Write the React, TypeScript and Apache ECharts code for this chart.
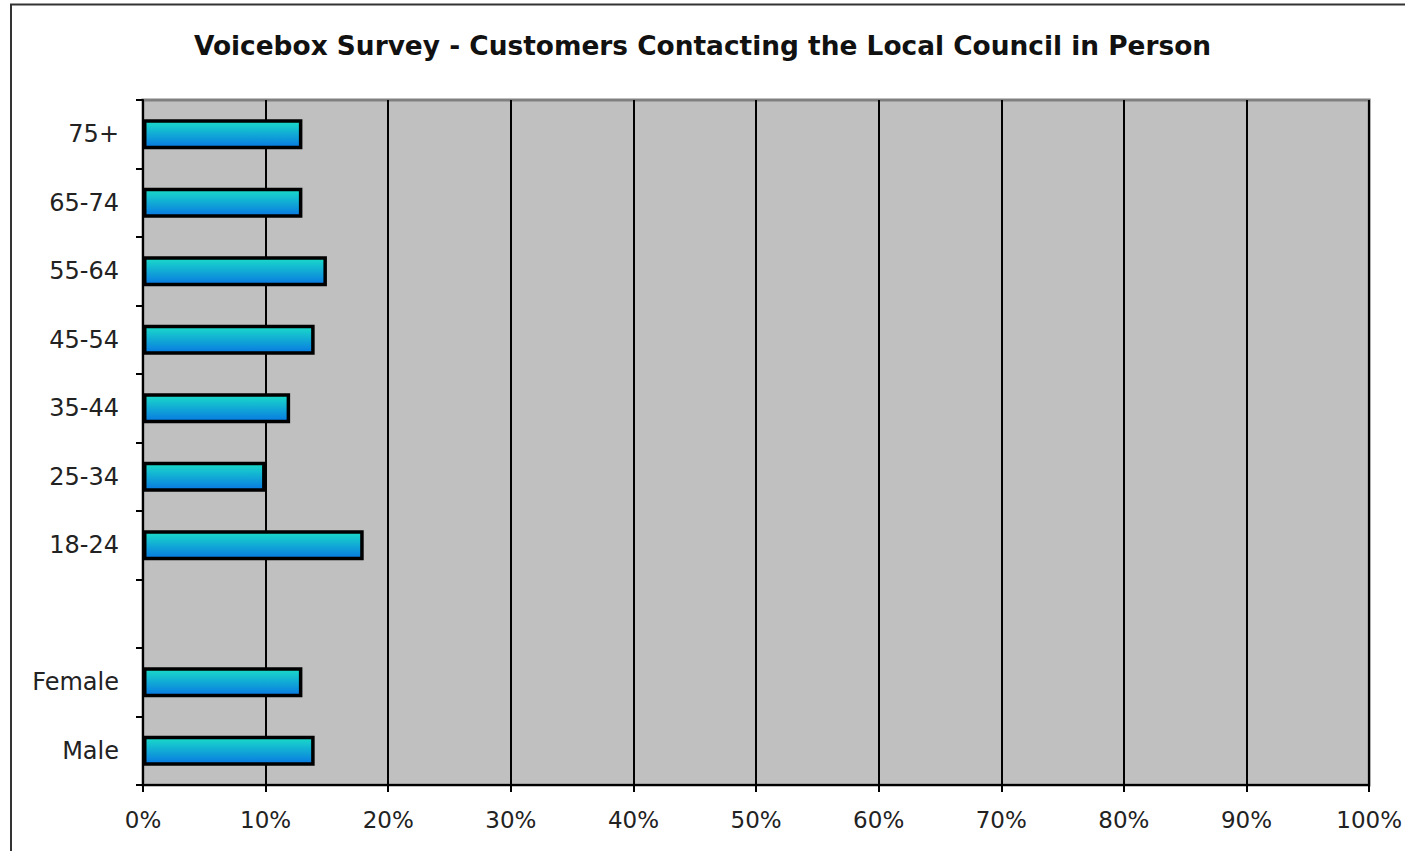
import React, { useEffect, useRef } from "react";
import * as echarts from "echarts";

const categories = ["Male", "Female", "", "18-24", "25-34", "35-44", "45-54", "55-64", "65-74", "75+"];
const values: (number | null)[] = [14, 13, null, 18, 10, 12, 14, 15, 13, 13];
const xTicks = [0, 10, 20, 30, 40, 50, 60, 70, 80, 90, 100];
const titleText = "Voicebox Survey - Customers Contacting the Local Council in Person";

export default function App() {
  const ref = useRef<HTMLDivElement>(null);
  useEffect(() => {
    if (!ref.current) return;
    const chart = echarts.init(ref.current, undefined, { renderer: "svg" });
    chart.setOption({
      animation: false,
      backgroundColor: "#ffffff",
      title: {
        text: titleText,
        left: "center",
        top: 27,
        textStyle: { fontFamily: "DejaVu Sans", fontSize: 26.4, fontWeight: "bold", color: "#111" },
      },
      graphic: [
        {
          type: "rect",
          shape: { x: 11, y: 4.5, width: 1500, height: 1000 },
          style: { fill: "none", stroke: "#333", lineWidth: 2 },
          silent: true,
        },
      ],
      grid: {
        left: 143,
        right: 33,
        top: 100,
        bottom: 66,
        show: true,
        backgroundColor: "#c0c0c0",
        borderColor: "#808080",
        borderWidth: 3,
      },
      xAxis: {
        type: "value",
        min: xTicks[0],
        max: xTicks[xTicks.length - 1],
        interval: 10,
        axisLine: { show: true, lineStyle: { color: "#000", width: 2 } },
        axisTick: { show: true, length: 7, lineStyle: { color: "#000", width: 2 } },
        splitLine: { show: true, lineStyle: { color: "#000", width: 2 } },
        axisLabel: {
          formatter: (v: number) => v + "%",
          fontFamily: "DejaVu Sans",
          fontSize: 23,
          color: "#222",
          margin: 23,
        },
      },
      yAxis: {
        type: "category",
        data: categories,
        axisLine: { show: true, lineStyle: { color: "#000", width: 2 } },
        axisTick: { show: true, length: 7, lineStyle: { color: "#000", width: 2 } },
        splitLine: { show: false },
        axisLabel: {
          fontFamily: "DejaVu Sans",
          fontSize: 24,
          color: "#222",
          margin: 24,
        },
      },
      series: [
        {
          type: "bar",
          data: values,
          barWidth: 30,
          itemStyle: {
            borderColor: "#000",
            borderWidth: 3.5,
            color: new echarts.graphic.LinearGradient(0, 0, 0, 1, [
              { offset: 0, color: "#1adcc8" },
              { offset: 1, color: "#0878e2" },
            ]),
          },
        },
      ],
    });
    return () => chart.dispose();
  }, []);
  return (
    <div
      ref={ref}
      style={{ position: "absolute", left: 0, top: 0, width: 1405, height: 851 }}
    />
  );
}
